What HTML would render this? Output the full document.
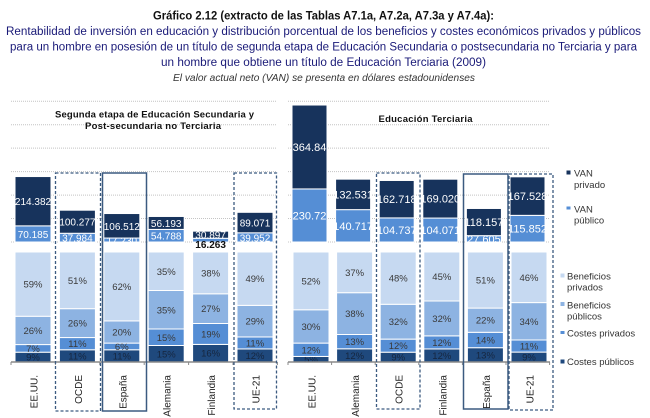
<!DOCTYPE html>
<html lang="es">
<head>
<meta charset="utf-8">
<title>Gráfico 2.12</title>
<style>
html,body{margin:0;padding:0;background:#fff;}
body{width:650px;height:418px;overflow:hidden;}
svg{display:block;font-family:"Liberation Sans",sans-serif;}
</style>
</head>
<body>
<svg id="chart" xmlns="http://www.w3.org/2000/svg" width="650" height="418" viewBox="0 0 650 418">
  <g>
    <text x="153" y="19.5" font-size="11.5" font-weight="bold" fill="#111" textLength="341" lengthAdjust="spacingAndGlyphs">Gráfico 2.12 (extracto de las Tablas A7.1a, A7.2a, A7.3a y A7.4a):</text>
    <text x="6" y="35" font-size="11.5" fill="#1a1a78" textLength="635" lengthAdjust="spacingAndGlyphs">Rentabilidad de inversión en educación y distribución porcentual de los beneficios y costes económicos privados y públicos</text>
    <text x="10" y="50.5" font-size="11.5" fill="#1a1a78" textLength="627" lengthAdjust="spacingAndGlyphs">para un hombre en posesión de un título de segunda etapa de Educación Secundaria o postsecundaria no Terciaria y para</text>
    <text x="161" y="66" font-size="11.5" fill="#1a1a78" textLength="325" lengthAdjust="spacingAndGlyphs">un hombre que obtiene un título de Educación Terciaria (2009)</text>
    <text x="173" y="81" font-size="10.5" font-style="italic" fill="#333" textLength="302" lengthAdjust="spacingAndGlyphs">El valor actual neto (VAN) se presenta en dólares estadounidenses</text>
  </g>
  <g id="plot"></g>
  <g font-size="9.5" font-weight="bold" fill="#111">
    <text x="55" y="117.5" textLength="199" lengthAdjust="spacing">Segunda etapa de Educación Secundaria y</text>
    <text x="85" y="129" textLength="136" lengthAdjust="spacing">Post-secundaria no Terciaria</text>
    <text x="378.5" y="122" textLength="94" lengthAdjust="spacing">Educación Terciaria</text>
  </g>
  <g font-size="9.5" fill="#333">
    <g>
      <rect x="566.5" y="170.5" width="4" height="4" fill="#17335c"/>
      <text x="574" y="176.5">VAN</text><text x="574" y="188">privado</text>
    </g>
    <g>
      <rect x="566.5" y="206.5" width="4" height="3" fill="#558ed5"/>
      <text x="574" y="212.5">VAN</text><text x="574" y="223.5">público</text>
    </g>
    <g>
      <rect x="560.5" y="273.5" width="4" height="4" fill="#c6d9f1"/>
      <text x="567" y="279.5">Beneficios</text><text x="567" y="290.5">privados</text>
    </g>
    <g>
      <rect x="560.5" y="302" width="4" height="4" fill="#8db3e2"/>
      <text x="567" y="308.5">Beneficios</text><text x="567" y="319.5">públicos</text>
    </g>
    <g>
      <rect x="560.5" y="331" width="4" height="3" fill="#558ed5"/>
      <text x="567" y="336.5">Costes privados</text>
    </g>
    <g>
      <rect x="560.5" y="359.5" width="4" height="4" fill="#1f497d"/>
      <text x="567" y="365">Costes públicos</text>
    </g>
  </g>
</svg>
<script>
var leftCategories = ['EE.UU.', 'OCDE', 'España', 'Alemania', 'Finlandia', 'UE-21'];
var leftVanPrivado = [214.382, 100.277, 106.512, 56.193, 30.897, 89.071];
var leftVanPublico = [70.185, 37.984, 17.230, 54.788, 16.263, 39.952];
var leftBeneficiosPrivados = [59, 51, 62, 35, 38, 49];
var leftBeneficiosPublicos = [26, 26, 20, 35, 27, 29];
var leftCostesPrivados = [7, 11, 6, 15, 19, 11];
var leftCostesPublicos = [9, 11, 11, 15, 16, 12];
var leftVanPrivadoLabels = ['214.382', '100.277', '106.512', '56.193', '30.897', '89.071'];
var leftVanPublicoLabels = ['70.185', '37.984', '17.230', '54.788', '16.263', '39.952'];

var rightCategories = ['EE.UU.', 'Alemania', 'OCDE', 'Finlandia', 'España', 'UE-21'];
var rightVanPrivado = [364.84, 132.531, 162.718, 169.020, 118.157, 167.528];
var rightVanPublico = [230.72, 140.717, 104.737, 104.071, 27.605, 115.852];
var rightBeneficiosPrivados = [52, 37, 48, 45, 51, 46];
var rightBeneficiosPublicos = [30, 38, 32, 32, 22, 34];
var rightCostesPrivados = [12, 13, 12, 12, 14, 11];
var rightCostesPublicos = [5, 12, 9, 12, 13, 9];
var rightVanPrivadoLabels = ['364.84', '132.531', '162.718', '169.020', '118.157', '167.528'];
var rightVanPublicoLabels = ['230.72', '140.717', '104.737', '104.071', '27.605', '115.852'];

var gridValues = [0, 102, 204, 306, 408, 510, 612];

var NS = 'http://www.w3.org/2000/svg';
var plot = document.getElementById('plot');

function vanY(v) { return 242 - v * 0.23; }
function pctY(p) { return 362 - p * 1.1; }

function mk(tag, parent, attrs) {
  var el = document.createElementNS(NS, tag);
  for (var k in attrs) { el.setAttribute(k, attrs[k]); }
  parent.appendChild(el);
  return el;
}

function slug(s) {
  return s.toLowerCase().replace(/\./g, '').replace(/ñ/g, 'n');
}

function drawPanel(p) {
  var panel = mk('g', plot, {});
  
  
  function bandX(i) { return p.x0 + p.step * i; }

  gridValues.forEach(function (v) {
    var gl = mk('line', panel, { x1: p.x0, x2: p.x1, y1: vanY(v), y2: vanY(v), stroke: '#c4c4c4', 'stroke-width': 1, 'stroke-dasharray': '1 1' });
    
    
  });

  p.cats.forEach(function (cat, i) {
    var x = bandX(i) + p.pad;
    var vx = bandX(i) + p.vanPad;
    var id = p.name + '-' + slug(cat);
    var yPub = vanY(p.pub[i]);
    var pubBar = mk('rect', panel, { x: vx, y: yPub, width: p.vanW, height: 242 - yPub, fill: '#558ed5', stroke: '#fff', 'stroke-width': 1 });
    
    
    var isOutside = cat === 'Finlandia' && p.name === 'left';
    var pubText = mk('text', panel, {
      x: vx + p.vanW / 2, y: (yPub + 242) / 2 + 4, 'font-size': p.vanFont, 'text-anchor': 'middle',
      fill: isOutside ? '#111' : '#fff',
      'font-weight': isOutside ? 'bold' : 'normal'
    });
    if (isOutside) { pubText.setAttribute('y', 248); }
    pubText.textContent = p.pubLabels[i];
    
    

    var yPriv = vanY(p.pub[i] + p.priv[i]);
    var privBar = mk('rect', panel, { x: vx, y: yPriv, width: p.vanW, height: yPub - yPriv, fill: '#17335c', stroke: '#fff', 'stroke-width': 1 });
    
    
    var privText = mk('text', panel, { x: vx + p.vanW / 2, y: (yPriv + yPub) / 2 + 4, 'font-size': p.vanFont, 'text-anchor': 'middle', fill: '#fff' });
    privText.textContent = p.privLabels[i];
    
    

    var series = [
      { key: 'costes-publicos', v: p.cpub[i], fill: '#1f497d' },
      { key: 'costes-privados', v: p.cpriv[i], fill: '#558ed5' },
      { key: 'beneficios-publicos', v: p.bpub[i], fill: '#8db3e2' },
      { key: 'beneficios-privados', v: p.bpriv[i], fill: '#c6d9f1' }
    ];
    var total = series.reduce(function (a, s) { return a + s.v; }, 0);
    var cum = 0;
    series.forEach(function (s) {
      var yBottom = pctY(cum / total * 100);
      cum += s.v;
      var yTop = pctY(cum / total * 100);
      var seg = mk('rect', panel, { x: x, y: yTop, width: p.bw, height: yBottom - yTop, fill: s.fill, stroke: '#fff', 'stroke-width': 1 });
      
      
      var lab = mk('text', panel, { x: x + p.bw / 2, y: (yTop + yBottom) / 2 + 3.5, 'font-size': 9.5, 'text-anchor': 'middle', fill: s.key === 'costes-publicos' ? '#16263f' : '#3a3a3a' });
      lab.textContent = s.v + '%';
      
      
    });

    var cx = bandX(i) + p.pad + p.bw / 2 + 0.5;
    var tick = mk('text', panel, { transform: 'translate(' + (cx + 4) + ',375) rotate(-90)', 'font-size': 10, 'text-anchor': 'end', fill: '#222' });
    tick.textContent = cat;
    
    
  });

  var axis = mk('line', panel, { x1: p.x0, x2: p.x1, y1: 362, y2: 362, stroke: '#8a8a8a', 'stroke-width': 1.5 });
  
  
  for (var t = 0; t <= p.cats.length; t++) {
    var tk = mk('line', panel, { x1: bandX(t), x2: bandX(t), y1: 362, y2: 365, stroke: '#8a8a8a', 'stroke-width': 1 });
    
    
  }

  p.boxes.forEach(function (b) {
    var box = mk('rect', panel, { x: b.x, y: b.y, width: b.w, height: b.h, fill: 'none', stroke: '#3b5a80', 'stroke-width': b.dash ? 1.3 : 1.5 });
    if (b.dash) { box.setAttribute('stroke-dasharray', '3 2'); }
    
    
  });
}

drawPanel({
  name: 'left', x0: 11, x1: 277, step: 44.4, pad: 4, bw: 36, vanPad: 4, vanW: 36, vanFont: 10,
  cats: leftCategories, priv: leftVanPrivado, pub: leftVanPublico,
  privLabels: leftVanPrivadoLabels, pubLabels: leftVanPublicoLabels,
  bpriv: leftBeneficiosPrivados, bpub: leftBeneficiosPublicos,
  cpriv: leftCostesPrivados, cpub: leftCostesPublicos,
  boxes: [
    { label: 'ocde', x: 55.5, y: 173, w: 45, h: 238, dash: true },
    { label: 'espana', x: 102.5, y: 173, w: 44, h: 238, dash: false },
    { label: 'ue-21', x: 234, y: 173, w: 42.5, h: 236, dash: true }
  ]
});
drawPanel({
  name: 'right', x0: 288, x1: 550, step: 43.6, pad: 5, bw: 36, vanPad: 4, vanW: 35, vanFont: 11,
  cats: rightCategories, priv: rightVanPrivado, pub: rightVanPublico,
  privLabels: rightVanPrivadoLabels, pubLabels: rightVanPublicoLabels,
  bpriv: rightBeneficiosPrivados, bpub: rightBeneficiosPublicos,
  cpriv: rightCostesPrivados, cpub: rightCostesPublicos,
  boxes: [
    { label: 'ocde', x: 376.5, y: 173, w: 43.5, h: 236, dash: true },
    { label: 'espana', x: 463.5, y: 174, w: 44.5, h: 235, dash: false },
    { label: 'ue-21', x: 509, y: 174, w: 44, h: 236, dash: true }
  ]
});
</script>
</body>
</html>
